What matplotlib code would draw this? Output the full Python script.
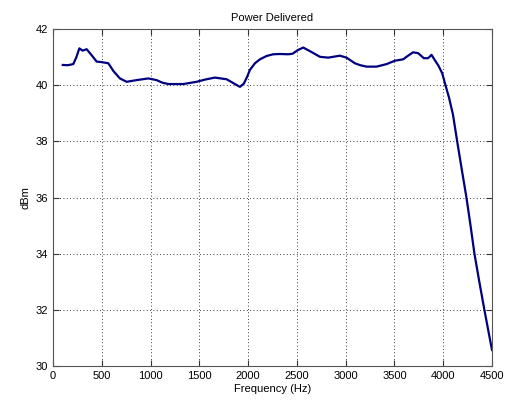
import matplotlib
matplotlib.use("Agg")
import matplotlib.pyplot as plt

freq_hz = [100, 150, 208, 240, 270, 304, 345, 400, 447, 500, 567, 620, 686, 755,
           857, 977, 1062, 1120, 1182, 1335, 1472, 1560, 1660, 1780, 1865, 1916,
           1957, 1990, 2018, 2070, 2121, 2190, 2257, 2326, 2411, 2456, 2510, 2565,
           2650, 2736, 2821, 2941, 3009, 3094, 3150, 3214, 3316, 3419, 3504, 3589,
           3640, 3691, 3743, 3801, 3845, 3880, 3914, 3950, 3990, 4023, 4060, 4100,
           4143, 4190, 4238, 4280, 4320, 4370, 4422, 4460, 4500]
power_dbm = [40.72, 40.71, 40.75, 41.00, 41.31, 41.23, 41.28, 41.05, 40.84, 40.82,
             40.78, 40.50, 40.24, 40.12, 40.18, 40.24, 40.18, 40.09, 40.04, 40.04,
             40.12, 40.20, 40.27, 40.21, 40.04, 39.94, 40.06, 40.30, 40.54, 40.78,
             40.92, 41.04, 41.10, 41.11, 41.10, 41.12, 41.25, 41.34, 41.18, 41.01,
             40.98, 41.05, 40.98, 40.78, 40.71, 40.66, 40.66, 40.75, 40.87, 40.92,
             41.05, 41.17, 41.14, 40.96, 40.96, 41.08, 40.89, 40.70, 40.42, 40.00,
             39.55, 38.95, 38.00, 37.00, 36.00, 35.00, 34.00, 33.00, 32.00, 31.30,
             30.57]
x_ticks = [0, 500, 1000, 1500, 2000, 2500, 3000, 3500, 4000, 4500]
y_ticks = [30, 32, 34, 36, 38, 40, 42]

plt.rcParams['font.family'] = ['Liberation Sans', 'DejaVu Sans']
fig = plt.figure(figsize=(5.08, 4.03), dpi=100)
ax = fig.add_axes([53/508, 1-366/403, (492-53)/508, (366-29)/403])
ax.plot(freq_hz, power_dbm, color='#000080', linewidth=1.6)
ax.set_xlim(0, 4500)
ax.set_ylim(30, 42)
ax.set_xticks(x_ticks)
ax.set_yticks(y_ticks)
ax.grid(True, linestyle=(0, (1, 3)), color='black', linewidth=0.6)
ax.tick_params(direction='in', top=True, right=True, labelsize=8, length=4, colors='#333333',
               labelcolor='black')
for s in ax.spines.values():
    s.set_color('#555555')
ax.set_title('Power Delivered', fontsize=8, pad=6)
ax.set_xlabel('Frequency (Hz)', fontsize=8, labelpad=2)
ax.set_ylabel('dBm', fontsize=8, labelpad=4)
fig.savefig('out.png', dpi=100, facecolor='white')
